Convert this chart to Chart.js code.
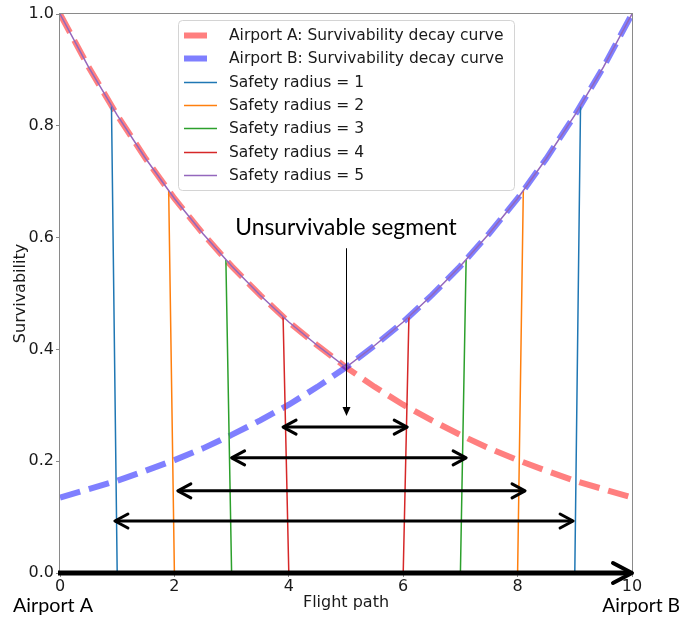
<!DOCTYPE html>
<html>
<head>
<meta charset="utf-8">
<script src="https://cdn.jsdelivr.net/npm/chart.js@4.4.1/dist/chart.umd.min.js"></script>
<style>
  html, body { margin: 0; padding: 0; background: #fff; }
  #wrap { width: 683px; height: 621px; }
</style>
</head>
<body>
<div id="wrap"><canvas id="ex_chart" width="683" height="621"></canvas></div>
<script>
// positions along the flight path (0 = Airport A, 10 = Airport B)
const flightPath = [0, 0.5, 1, 1.5, 2, 2.5, 3, 3.5, 4, 4.5, 5, 5.5, 6, 6.5, 7, 7.5, 8, 8.5, 9, 9.5, 10];
const airportA = [1.000, 0.905, 0.819, 0.741, 0.670, 0.607, 0.549, 0.497, 0.449, 0.407, 0.368,
                  0.333, 0.301, 0.273, 0.247, 0.223, 0.202, 0.183, 0.165, 0.150, 0.135];
const airportB = [0.135, 0.150, 0.165, 0.183, 0.202, 0.223, 0.247, 0.273, 0.301, 0.333, 0.368,
                  0.407, 0.449, 0.497, 0.549, 0.607, 0.670, 0.741, 0.819, 0.905, 1.000];
// radius 5 never drops: it is the upper envelope
const radius5 = [1.000, 0.905, 0.819, 0.741, 0.670, 0.607, 0.549, 0.497, 0.449, 0.407, 0.368,
                 0.407, 0.449, 0.497, 0.549, 0.607, 0.670, 0.741, 0.819, 0.905, 1.000];
// radius 1..4: drop to zero and come back
const radii = [1, 2, 3, 4];
const dropX = [[0.9, 1, 9, 9.1], [1.9, 2, 8, 8.1], [2.9, 3, 7, 7.1], [3.9, 4, 6, 6.1]];
const dropY = [[0.835, 0, 0, 0.835], [0.684, 0, 0, 0.684], [0.560, 0, 0, 0.560], [0.458, 0, 0, 0.458]];
// unsurvivable segment arrows
const segY = [0.261, 0.206, 0.147, 0.093];
const segFrom = [3.90, 3.00, 2.06, 0.96];
const segTo = [6.07, 7.10, 8.13, 8.97];
const noteX = 5, noteTop = 0.581, noteBottom = 0.281, noteTextY = 0.617;

const xTicks = [0, 2, 4, 6, 8, 10];
const yTicks = [0, 0.2, 0.4, 0.6, 0.8, 1.0];

const tab = ['#1f77b4', '#ff7f0e', '#2ca02c', '#d62728', '#9467bd'];

const pts = (xs, ys) => xs.map((x, i) => ({ x: x, y: ys[i] }));

const datasets = [
  { label: 'Airport A: Survivability decay curve', data: pts(flightPath, airportA),
    borderColor: 'rgba(255, 0, 0, 0.5)', borderWidth: 6, borderDash: [21, 9], order: 7 },
  { label: 'Airport B: Survivability decay curve', data: pts(flightPath, airportB),
    borderColor: 'rgba(0, 0, 255, 0.5)', borderWidth: 6, borderDash: [21, 9], order: 6 }
];
radii.forEach((r, i) => {
  datasets.push({ label: 'Safety radius = ' + r, data: pts(dropX[i], dropY[i]),
    borderColor: tab[i], borderWidth: 1.5, order: 5 - i });
});
datasets.push({ label: 'Safety radius = 5', data: pts(flightPath, radius5),
  borderColor: tab[4], borderWidth: 1.5, order: 1 });

function chevron(ctx, x, y, dir, len, half) {
  ctx.beginPath();
  ctx.moveTo(x - dir * len, y - half);
  ctx.lineTo(x, y);
  ctx.lineTo(x - dir * len, y + half);
  ctx.stroke();
}

function fitFont(ctx, text, family, width) {
  ctx.font = '20px ' + family;
  const w = ctx.measureText(text).width;
  return (20 * width / w).toFixed(1) + 'px ' + family;
}

const extras = {
  id: 'extras',
  afterDatasetsDraw(chart) {
    const ctx = chart.ctx;
    const xs = chart.scales.x, ys = chart.scales.y;
    const a = chart.chartArea;
    ctx.save();
    // frame
    ctx.strokeStyle = '#8a8a8a';
    ctx.lineWidth = 1;
    ctx.strokeRect(a.left - 0.5, a.top - 0.5, a.right - a.left + 1, a.bottom - a.top + 1);

    ctx.strokeStyle = '#000';
    ctx.lineCap = 'round';
    ctx.lineJoin = 'round';
    // double arrows
    ctx.lineWidth = 3;
    segY.forEach((v, i) => {
      const y = ys.getPixelForValue(v);
      const x1 = xs.getPixelForValue(segFrom[i]);
      const x2 = xs.getPixelForValue(segTo[i]);
      ctx.beginPath();
      ctx.moveTo(x1 + 1, y);
      ctx.lineTo(x2 - 1, y);
      ctx.stroke();
      chevron(ctx, x1, y, -1, 13, 7);
      chevron(ctx, x2, y, 1, 13, 7);
    });
    // flight path arrow on the axis
    const y0 = ys.getPixelForValue(0);
    const xa = xs.getPixelForValue(0), xb = xs.getPixelForValue(10);
    ctx.lineWidth = 5;
    ctx.lineCap = 'butt';
    ctx.beginPath();
    ctx.moveTo(xa - 2, y0);
    ctx.lineTo(xb - 2, y0);
    ctx.stroke();
    ctx.lineCap = 'round';
    ctx.lineWidth = 4;
    chevron(ctx, xb, y0, 1, 19, 10);
    // note arrow
    const nx = Math.round(xs.getPixelForValue(noteX)) + 0.5;
    const nt = ys.getPixelForValue(noteTop), nb = ys.getPixelForValue(noteBottom);
    ctx.lineWidth = 1;
    ctx.lineCap = 'butt';
    ctx.beginPath();
    ctx.moveTo(nx, nt);
    ctx.lineTo(nx, nb - 8);
    ctx.stroke();
    ctx.fillStyle = '#000';
    ctx.beginPath();
    ctx.moveTo(nx - 4, nb - 9);
    ctx.lineTo(nx + 4, nb - 9);
    ctx.lineTo(nx, nb);
    ctx.closePath();
    ctx.fill();
    ctx.restore();
  },
  afterDraw(chart) {
    const ctx = chart.ctx;
    const xs = chart.scales.x, ys = chart.scales.y;
    const a = chart.chartArea;
    ctx.save();
    // legend
    const lx = 178.5, ly = 20.5, lw = 336, lh = 170;
    ctx.beginPath();
    ctx.roundRect(lx, ly, lw, lh, 4);
    ctx.fillStyle = 'rgba(255,255,255,0.8)';
    ctx.fill();
    ctx.strokeStyle = '#d4d4d4';
    ctx.lineWidth = 1;
    ctx.stroke();
    ctx.font = '15.5px "DejaVu Sans"';
    ctx.textBaseline = 'middle';
    ctx.textAlign = 'left';
    chart.data.datasets.forEach((ds, i) => {
      const y = 35 + i * 23.3;
      ctx.strokeStyle = ds.borderColor;
      ctx.lineWidth = ds.borderWidth;
      // dashed entries only show their first dash
      const end = ds.borderDash ? 184 + ds.borderDash[0] + 2 : 217;
      ctx.beginPath();
      ctx.moveTo(184, Math.round(y) + 0.5);
      ctx.lineTo(end, Math.round(y) + 0.5);
      ctx.stroke();
      ctx.fillStyle = '#1a1a1a';
      ctx.fillText(ds.label, 229, y + 1);
    });
    // axis titles
    ctx.fillStyle = '#1a1a1a';
    ctx.font = '16px "DejaVu Sans"';
    ctx.textAlign = 'center';
    ctx.fillText('Flight path', (a.left + a.right) / 2, 603);
    ctx.save();
    ctx.translate(21, (a.top + a.bottom) / 2);
    ctx.rotate(-Math.PI / 2);
    ctx.fillText('Survivability', 0, 0);
    ctx.restore();
    // notes
    ctx.fillStyle = '#000';
    ctx.font = fitFont(ctx, 'Unsurvivable segment', 'Lato', 221);
    ctx.fillText('Unsurvivable segment', xs.getPixelForValue(noteX), ys.getPixelForValue(noteTextY));
    ctx.font = fitFont(ctx, 'Airport A', 'Lato', 80);
    ctx.textAlign = 'left';
    ctx.fillText('Airport A', 13, 606);
    ctx.font = fitFont(ctx, 'Airport B', 'Lato', 78);
    ctx.textAlign = 'right';
    ctx.fillText('Airport B', 680, 606);
    ctx.restore();
  }
};

const tickFont = { family: 'DejaVu Sans', size: 16 };

new Chart(document.getElementById('ex_chart'), {
  type: 'line',
  data: { datasets: datasets },
  options: {
    responsive: false,
    animation: false,
    devicePixelRatio: 1,
    layout: { padding: { left: 0, right: 51, top: 14, bottom: 0 } },
    elements: { point: { radius: 0 }, line: { tension: 0, fill: false } },
    plugins: { legend: { display: false }, tooltip: { enabled: false } },
    scales: {
      x: {
        type: 'linear', min: 0, max: 10,
        afterFit: s => { s.height = 48; },
        afterBuildTicks: s => { s.ticks = xTicks.map(v => ({ value: v })); },
        border: { display: false },
        grid: { drawOnChartArea: false, drawTicks: true, tickLength: 4, color: '#8a8a8a' },
        ticks: { font: tickFont, color: '#1a1a1a', padding: 0, maxRotation: 0, callback: v => String(v) }
      },
      y: {
        type: 'linear', min: 0, max: 1,
        afterFit: s => { s.width = 60; },
        afterBuildTicks: s => { s.ticks = yTicks.map(v => ({ value: v })); },
        border: { display: false },
        grid: { drawOnChartArea: false, drawTicks: true, tickLength: 4, color: '#8a8a8a' },
        ticks: { font: tickFont, color: '#1a1a1a', padding: 2, callback: v => v.toFixed(1) }
      }
    }
  },
  plugins: [extras]
});
</script>
</body>
</html>
